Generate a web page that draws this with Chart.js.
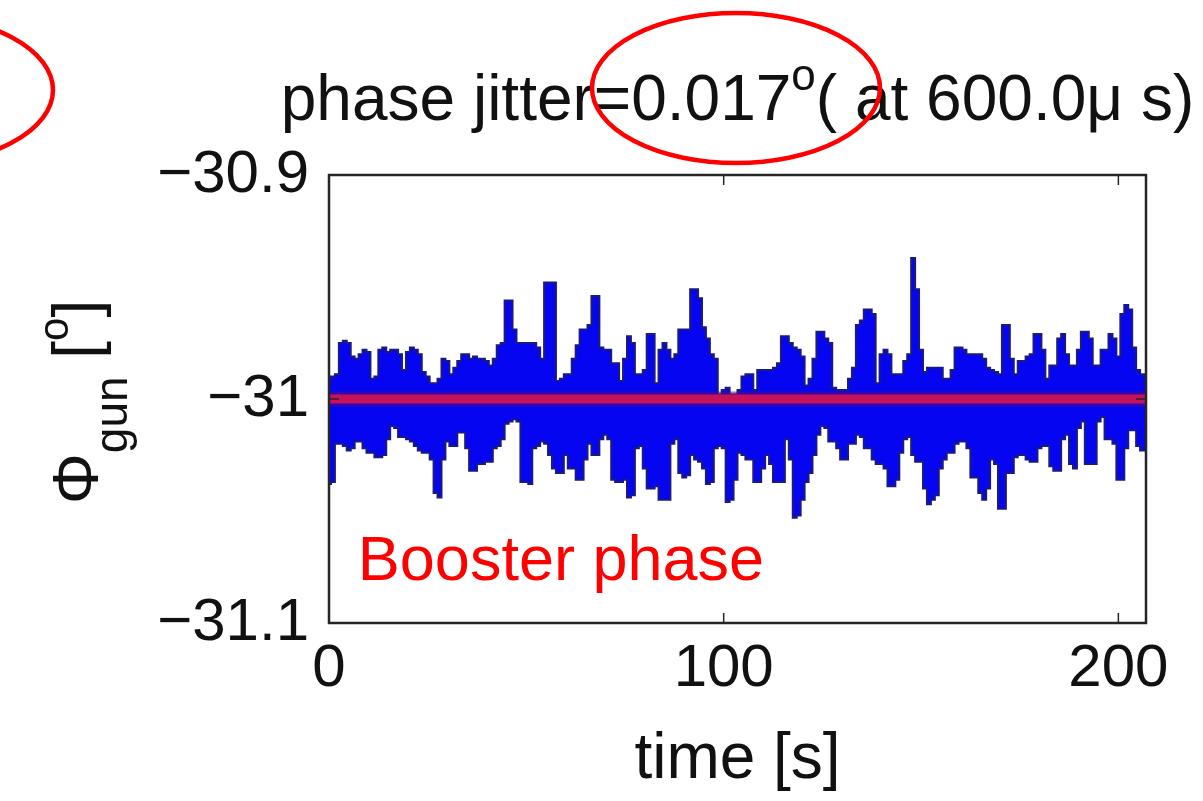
<!DOCTYPE html>
<html>
<head>
<meta charset="utf-8">
<script src="https://cdn.jsdelivr.net/npm/chart.js@4.4.1/dist/chart.umd.min.js"></script>
<style>
  html, body { margin: 0; padding: 0; background: #ffffff; }
  #wrap { width: 1203px; height: 801px; }
</style>
</head>
<body>
<div id="wrap"><canvas id="jitter-chart" width="1203" height="801"></canvas></div>
<script>
// ---------------------------------------------------------------------------------------
// data: envelope of the booster phase per second

var timeS = [
  0,1,2,3,4,5,6,7,8,9,10,11,12,13,14,15,16,17,18,19,
  20,21,22,23,24,25,26,27,28,29,30,31,32,33,34,35,36,37,38,39,
  40,41,42,43,44,45,46,47,48,49,50,51,52,53,54,55,56,57,58,59,
  60,61,62,63,64,65,66,67,68,69,70,71,72,73,74,75,76,77,78,79,
  80,81,82,83,84,85,86,87,88,89,90,91,92,93,94,95,96,97,98,99,
  100,101,102,103,104,105,106,107,108,109,110,111,112,113,114,115,116,117,118,119,
  120,121,122,123,124,125,126,127,128,129,130,131,132,133,134,135,136,137,138,139,
  140,141,142,143,144,145,146,147,148,149,150,151,152,153,154,155,156,157,158,159,
  160,161,162,163,164,165,166,167,168,169,170,171,172,173,174,175,176,177,178,179,
  180,181,182,183,184,185,186,187,188,189,190,191,192,193,194,195,196,197,198,199,
  200,201,202,203,204,205,206,207
];

var phaseUpper = [
  -30.991,-30.990,-30.989,-30.975,-30.974,-30.975,-30.981,-30.982,-30.980,-30.978,
  -30.979,-30.991,-30.990,-30.978,-30.977,-30.979,-30.978,-30.978,-30.980,-30.987,
  -30.979,-30.977,-30.978,-30.980,-30.988,-30.990,-30.993,-30.993,-30.991,-30.982,
  -30.983,-30.989,-30.986,-30.983,-30.980,-30.980,-30.982,-30.981,-30.982,-30.982,
  -30.983,-30.985,-30.982,-30.976,-30.975,-30.956,-30.956,-30.969,-30.975,-30.975,
  -30.975,
  -30.975,-30.975,-30.977,-30.982,-30.948,-30.948,-30.948,-30.992,-30.991,-30.989,
  -30.989,-30.982,-30.976,-30.969,-30.969,-30.967,-30.954,-30.954,-30.977,-30.978,
  -30.978,-30.984,-30.984,-30.992,-30.982,-30.972,-30.975,-30.989,-30.989,-30.987,
  -30.971,-30.971,-30.993,-30.978,-30.975,-30.978,-30.982,-30.980,-30.969,-30.969,
  -30.969,-30.951,-30.951,-30.955,-30.968,-30.973,-30.980,-30.982,-30.998,-30.996,
  -30.995,-30.998,-30.998,
  -30.996,-30.990,-30.989,-30.989,-30.996,-30.987,-30.987,-30.987,-30.987,-30.986,
  -30.984,-30.972,-30.972,-30.975,-30.977,-30.978,-30.981,-30.994,-30.991,-30.982,
  -30.970,-30.970,-30.973,-30.975,-30.995,-30.996,-30.996,-30.996,-30.991,-30.986,
  -30.967,-30.965,-30.960,-30.960,-30.962,-30.993,-30.980,-30.978,-30.980,-30.989,
  -30.989,-30.989,-30.983,-30.980,-30.937,-30.951,-30.978,-30.988,-30.986,-30.986,
  -30.986,-30.986,
  -30.991,-30.991,-30.987,-30.977,-30.977,-30.978,-30.980,-30.980,-30.980,-30.980,
  -30.982,-30.986,-30.987,-30.988,-30.989,-30.967,-30.967,-30.982,-30.989,-30.983,
  -30.983,-30.981,-30.980,-30.971,-30.971,-30.978,-30.991,-30.985,-30.985,-30.973,
  -30.971,-30.980,-30.985,-30.985,-30.978,-30.970,-30.970,-30.973,-30.985,-30.985,
  -30.978,-30.978,-30.971,-30.973,-30.981,-30.962,-30.958,-30.960,-30.977,-30.987,
  -30.989,-30.990
];

var phaseLower = [
  -31.038,-31.037,-31.020,-31.020,-31.021,-31.023,-31.022,-31.019,-31.019,-31.022,
  -31.024,-31.024,-31.026,-31.026,-31.025,-31.018,-31.012,-31.013,-31.017,-31.017,
  -31.018,-31.019,-31.021,-31.023,-31.024,-31.024,-31.027,-31.042,-31.044,-31.027,
  -31.019,-31.021,-31.021,-31.015,-31.015,-31.022,-31.032,-31.032,-31.029,-31.029,
  -31.028,-31.028,-31.022,-31.021,-31.018,-31.011,-31.010,-31.009,-31.010,-31.037,
  -31.037,
  -31.038,-31.022,-31.021,-31.019,-31.020,-31.025,-31.031,-31.033,-31.033,-31.025,
  -31.031,-31.031,-31.036,-31.036,-31.027,-31.020,-31.025,-31.025,-31.018,-31.016,
  -31.018,-31.036,-31.037,-31.037,-31.036,-31.044,-31.043,-31.022,-31.021,-31.031,
  -31.040,-31.040,-31.039,-31.045,-31.045,-31.045,-31.020,-31.018,-31.033,-31.035,
  -31.034,-31.025,-31.027,-31.028,-31.031,-31.038,-31.037,-31.022,-31.021,-31.022,
  -31.046,-31.045,-31.036,
  -31.024,-31.025,-31.027,-31.027,-31.037,-31.037,-31.031,-31.025,-31.029,-31.037,
  -31.037,-31.037,-31.018,-31.027,-31.053,-31.052,-31.045,-31.037,-31.033,-31.025,
  -31.016,-31.012,-31.013,-31.019,-31.019,-31.022,-31.027,-31.027,-31.020,-31.020,
  -31.016,-31.017,-31.022,-31.022,-31.027,-31.029,-31.029,-31.031,-31.039,-31.039,
  -31.036,-31.024,-31.018,-31.017,-31.025,-31.028,-31.028,-31.040,-31.047,-31.045,
  -31.043,-31.031,
  -31.027,-31.024,-31.024,-31.020,-31.019,-31.019,-31.022,-31.035,-31.035,-31.042,
  -31.045,-31.040,-31.027,-31.029,-31.049,-31.049,-31.033,-31.033,-31.026,-31.025,
  -31.025,-31.027,-31.028,-31.028,-31.022,-31.021,-31.021,-31.030,-31.032,-31.032,
  -31.018,-31.016,-31.029,-31.031,-31.013,-31.010,-31.029,-31.029,-31.029,-31.010,
  -31.008,-31.018,-31.018,-31.020,-31.036,-31.036,-31.022,-31.014,-31.014,-31.021,
  -31.023,-31.023
];

// set point (red line)
var refTime = [0, 207];
var refPhase = [-31, -31];

// axes
var xTicks = [0, 100, 200];
var yTicks = [-31.1, -31, -30.9];
var xRange = [0, 207];
var yRange = [-31.1, -30.9];

var titleText = ["phase jitter=0.017", "o", "( at 600.0\u03bc s)"];
var yLabelText = ["\u03a6", "gun", " [", "o", "]"];
var noteText = "Booster phase";
var notePos = [7.3, -31.081];

// ---------------------------------------------------------------------------------------

function toXY(xs, ys) {
  var out = [];
  for (var i = 0; i < xs.length; i++) out.push({x: xs[i], y: ys[i]});
  return out;
}

function fmtMinus(v) {
  return (v < 0 ? "\u2212" : "") + Math.abs(v);
}

var FONT = "'Liberation Sans', Arial, Helvetica, sans-serif";
Chart.defaults.font.family = FONT;
Chart.defaults.color = "#111111";

// draws one line of text made of pieces, some raised / lowered
function drawPieces(ctx, pieces, cx, baseY) {
  var total = 0;
  pieces.forEach(function(p){
    ctx.font = p.size + "px " + FONT;
    p.w = ctx.measureText(p.t).width;
    total += p.w;
  });
  var x = cx - total / 2;
  ctx.textAlign = "left";
  ctx.textBaseline = "alphabetic";
  pieces.forEach(function(p){
    ctx.font = p.size + "px " + FONT;
    ctx.fillText(p.t, x, baseY + p.dy);
    x += p.w;
  });
}

var extras = {
  id: "extras",
  afterDraw: function(chart) {
    var ctx = chart.ctx;
    var a = chart.chartArea;
    var xs = chart.scales.x, ys = chart.scales.y;
    ctx.save();

    // box and inward ticks
    ctx.strokeStyle = "#262626";
    ctx.lineWidth = 2.5;
    ctx.strokeRect(a.left, a.top, a.right - a.left, a.bottom - a.top);
    ctx.lineWidth = 1.5;
    ctx.beginPath();
    xTicks.forEach(function(v){
      var px = xs.getPixelForValue(v);
      ctx.moveTo(px, a.bottom); ctx.lineTo(px, a.bottom - 10);
      ctx.moveTo(px, a.top); ctx.lineTo(px, a.top + 10);
    });
    yTicks.forEach(function(v){
      var py = ys.getPixelForValue(v);
      ctx.moveTo(a.left, py); ctx.lineTo(a.left + 10, py);
      ctx.moveTo(a.right, py); ctx.lineTo(a.right - 10, py);
    });
    ctx.stroke();

    // title
    ctx.fillStyle = "#111111";
    drawPieces(ctx, [
      {t: titleText[0], size: 64, dy: 0},
      {t: titleText[1], size: 44, dy: -30},
      {t: titleText[2], size: 64, dy: 0}
    ], (a.left + a.right) / 2, 120);

    // y label, rotated, with subscript
    ctx.save();
    ctx.translate(98, (a.top + a.bottom) / 2 + 3);
    ctx.rotate(-Math.PI / 2);
    drawPieces(ctx, [
      {t: yLabelText[0], size: 64, dy: 0},
      {t: yLabelText[1], size: 46, dy: 29},
      {t: yLabelText[2], size: 64, dy: 0},
      {t: yLabelText[3], size: 42, dy: -30},
      {t: yLabelText[4], size: 64, dy: 0}
    ], 0, 0);
    ctx.restore();

    // red note inside the axes
    ctx.fillStyle = "#ff0000";
    ctx.font = "63px " + FONT;
    ctx.textAlign = "left";
    ctx.textBaseline = "alphabetic";
    ctx.fillText(noteText, xs.getPixelForValue(notePos[0]), ys.getPixelForValue(notePos[1]));

    // red hand drawn ellipses
    ctx.strokeStyle = "#ff0000";
    ctx.lineWidth = 4.5;
    ctx.beginPath();
    ctx.ellipse(736, 88, 144, 75, 0, 0, Math.PI * 2);
    ctx.stroke();
    ctx.beginPath();
    ctx.ellipse(-90, 90, 143, 75, 0, 0, Math.PI * 2);
    ctx.stroke();

    ctx.restore();
  }
};

new Chart(document.getElementById("jitter-chart"), {
  type: "line",
  data: {
    datasets: [
      {
        label: "set point",
        data: toXY(refTime, refPhase),
        borderColor: "rgba(230,20,75,0.82)",
        borderWidth: 9,
        pointRadius: 0,
        fill: false
      },
      {
        label: "set point edge",
        data: toXY(refTime, refPhase),
        borderColor: "rgba(90,10,120,0.55)",
        borderWidth: 15,
        pointRadius: 0,
        fill: false
      },
      {
        label: "phase max",
        data: toXY(timeS, phaseUpper),
        borderColor: "#1a1a82",
        borderWidth: 2,
        pointRadius: 0,
        stepped: "middle",
        fill: false
      },
      {
        label: "phase min",
        data: toXY(timeS, phaseLower),
        borderColor: "#1a1a82",
        borderWidth: 2,
        backgroundColor: "#0505f2",
        pointRadius: 0,
        stepped: "middle",
        fill: "-1"
      }
    ]
  },
  options: {
    responsive: false,
    animation: false,
    events: [],
    layout: { padding: { left: 0, top: 175, right: 57, bottom: 0 } },
    scales: {
      x: {
        type: "linear",
        min: xRange[0],
        max: xRange[1],
        grid: { display: false },
        border: { display: false },
        afterBuildTicks: function(s){ s.ticks = xTicks.map(function(v){ return {value: v}; }); },
        afterFit: function(s){ s.height = 178; },
        ticks: {
          autoSkip: false,
          maxRotation: 0,
          padding: 2,
          color: "#111111",
          font: { size: 60 },
          callback: function(v){ return String(v); }
        },
        title: {
          display: true,
          text: "time [s]",
          color: "#111111",
          font: { size: 64 },
          padding: { top: 0, bottom: 2 }
        }
      },
      y: {
        type: "linear",
        min: yRange[0],
        max: yRange[1],
        grid: { display: false },
        border: { display: false },
        afterBuildTicks: function(s){ s.ticks = yTicks.map(function(v){ return {value: v}; }); },
        afterFit: function(s){ s.width = 329; },
        ticks: {
          padding: 12,
          color: "#111111",
          font: { size: 60 },
          callback: function(v){ return fmtMinus(v); }
        }
      }
    },
    plugins: {
      legend: { display: false },
      title: { display: false },
      tooltip: { enabled: false }
    }
  },
  plugins: [extras]
});
</script>
</body>
</html>
